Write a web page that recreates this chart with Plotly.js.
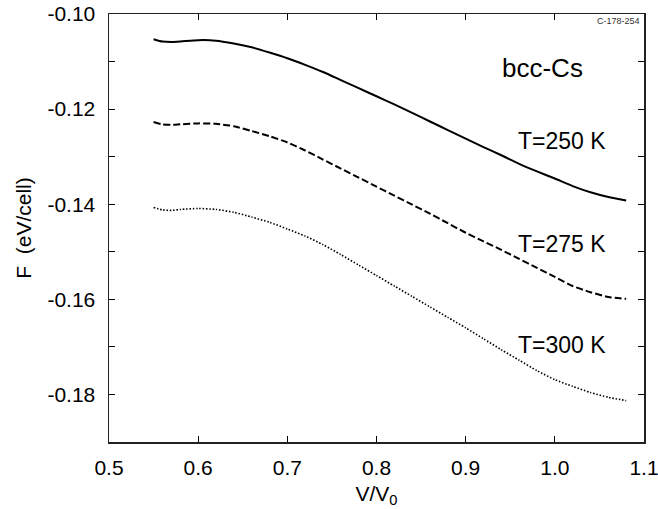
<!DOCTYPE html>
<html>
<head>
<meta charset="utf-8">
<script src="https://cdn.plot.ly/plotly-3.0.1.min.js"></script>
<style>html,body{margin:0;padding:0;background:#fff;}#chart{width:658px;height:509px;}</style>
</head>
<body>
<div id="chart"></div>
<script>
// Volume ratio V/V0
const vRatio = [0.55,0.56,0.57,0.58,0.60,0.62,0.64,0.66,0.68,0.70,0.72,0.74,0.76,0.78,0.80,0.82,0.84,0.86,0.88,0.90,0.92,0.94,0.96,0.98,1.00,1.02,1.04,1.06,1.08];
// Free energy F (eV/cell)
const fT250 = [-0.1053,-0.1058,-0.1059,-0.1058,-0.1055,-0.1056,-0.1062,-0.1070,-0.1081,-0.1093,-0.1107,-0.1122,-0.1139,-0.1156,-0.1173,-0.1190,-0.1208,-0.1226,-0.1244,-0.1262,-0.1280,-0.1297,-0.1315,-0.1331,-0.1346,-0.1362,-0.1375,-0.1385,-0.1392];
const fT275 = [-0.1227,-0.1232,-0.1233,-0.1232,-0.1230,-0.1231,-0.1236,-0.1246,-0.1257,-0.1270,-0.1287,-0.1306,-0.1325,-0.1344,-0.1363,-0.1382,-0.1401,-0.1420,-0.1440,-0.1460,-0.1478,-0.1496,-0.1515,-0.1534,-0.1553,-0.1572,-0.1585,-0.1595,-0.1599];
const fT300 = [-0.1407,-0.1412,-0.1413,-0.1411,-0.1409,-0.1411,-0.1417,-0.1427,-0.1438,-0.1452,-0.1467,-0.1485,-0.1506,-0.1528,-0.1550,-0.1572,-0.1594,-0.1616,-0.1638,-0.1660,-0.1683,-0.1706,-0.1728,-0.1750,-0.1769,-0.1783,-0.1796,-0.1806,-0.1813];
const seriesNames = ['T=250 K','T=275 K','T=300 K'];
// Tick labels
const xTickVals = [0.5,0.6,0.7,0.8,0.9,1.0,1.1];
const xTickText = ['0.5','0.6','0.7','0.8','0.9','1.0','1.1'];
const yTickVals = [-0.18,-0.16,-0.14,-0.12,-0.10];
const yTickText = ['-0.18','-0.16','-0.14','-0.12','-0.10'];
const yMinorVals = [-0.19,-0.17,-0.15,-0.13,-0.11];

const FONT = 'Liberation Sans, Arial, Helvetica, sans-serif';

const traces = [
  {x: vRatio, y: fT250, name: seriesNames[0], mode: 'lines', line: {color: '#000', width: 2, shape: 'spline', smoothing: 0.6}},
  {x: vRatio, y: fT275, name: seriesNames[1], mode: 'lines', line: {color: '#000', width: 2, dash: '7px,3px', shape: 'spline', smoothing: 0.6}},
  {x: vRatio, y: fT300, name: seriesNames[2], mode: 'lines', line: {color: '#000', width: 1.6, dash: '1.5px,1.8px', shape: 'spline', smoothing: 0.6}}
];

const labelX = 1.008;
const layout = {
  width: 658, height: 509,
  margin: {l: 109, r: 14, t: 14, b: 67, pad: 0},
  paper_bgcolor: '#fff', plot_bgcolor: '#fff',
  showlegend: false,
  font: {family: FONT, color: '#000', size: 21},
  xaxis: {
    range: [0.5, 1.1], tickmode: 'array', tickvals: xTickVals, ticktext: xTickText,
    ticks: 'inside', ticklen: 6, tickwidth: 1, tickcolor: '#000',
    showline: true, linecolor: '#222', linewidth: 1.5, mirror: 'ticks',
    showgrid: false, zeroline: false, ticklabelstandoff: 6, ticklabeloverflow: 'allow',
    tickfont: {family: FONT, size: 21, color: '#000'},
    title: {text: 'V/V<sub>0</sub>', font: {family: FONT, size: 21, color: '#000'}, standoff: 8}
  },
  yaxis: {
    range: [-0.19, -0.10], tickmode: 'array', tickvals: yTickVals, ticktext: yTickText,
    ticks: 'inside', ticklen: 6, tickwidth: 1, tickcolor: '#000',
    minor: {tickmode: 'array', tickvals: yMinorVals, ticks: 'inside', ticklen: 6, tickwidth: 1, tickcolor: '#000', showgrid: false},
    showline: true, linecolor: '#222', linewidth: 1.5, mirror: 'ticks',
    showgrid: false, zeroline: false, ticklabelstandoff: 8, ticklabeloverflow: 'allow',
    tickfont: {family: FONT, size: 21, color: '#000'},
    title: {text: 'F\u00a0 (eV/cell)', font: {family: FONT, size: 21, color: '#000'}, standoff: 10}
  },
  annotations: [
    {x: 0.986, y: -0.1113, xref: 'x', yref: 'y', text: 'bcc-Cs', showarrow: false, font: {family: FONT, size: 26, color: '#000'}},
    {x: labelX, y: -0.1266, xref: 'x', yref: 'y', text: seriesNames[0], showarrow: false, font: {family: FONT, size: 23, color: '#000'}},
    {x: labelX, y: -0.1484, xref: 'x', yref: 'y', text: seriesNames[1], showarrow: false, font: {family: FONT, size: 23, color: '#000'}},
    {x: labelX, y: -0.1696, xref: 'x', yref: 'y', text: seriesNames[2], showarrow: false, font: {family: FONT, size: 23, color: '#000'}},
    {x: 1.0, y: 1.0, xref: 'paper', yref: 'paper', xanchor: 'right', yanchor: 'top', xshift: -2, text: 'C-178-254', showarrow: false, font: {family: FONT, size: 9, color: '#333'}}
  ]
};

Plotly.newPlot('chart', traces, layout, {staticPlot: true, displayModeBar: false});
</script>
</body>
</html>
